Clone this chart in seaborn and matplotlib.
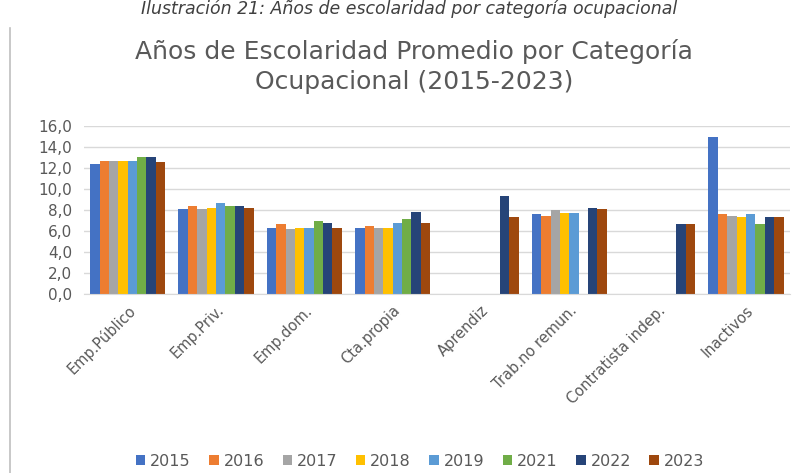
import pandas as pd
import numpy as np
import matplotlib.pyplot as plt
import seaborn as sns
from matplotlib.lines import Line2D
from matplotlib.ticker import FuncFormatter

# Datos
categorias = ['Emp.Público', 'Emp.Priv.', 'Emp.dom.', 'Cta.propia', 'Aprendiz',
              'Trab.no remun.', 'Contratista indep.', 'Inactivos']
anios = ['2015', '2016', '2017', '2018', '2019', '2021', '2022', '2023']
nan = np.nan
v2015 = [12.4, 8.1, 6.3, 6.3, nan, 7.6, nan, 14.9]
v2016 = [12.7, 8.4, 6.7, 6.5, nan, 7.4, nan, 7.6]
v2017 = [12.7, 8.1, 6.2, 6.3, nan, 8.0, nan, 7.4]
v2018 = [12.7, 8.2, 6.3, 6.3, nan, 7.7, nan, 7.3]
v2019 = [12.7, 8.7, 6.3, 6.8, nan, 7.7, nan, 7.6]
v2021 = [13.0, 8.4, 7.0, 7.1, nan, nan, nan, 6.7]
v2022 = [13.0, 8.4, 6.8, 7.8, 9.3, 8.2, 6.7, 7.3]
v2023 = [12.6, 8.2, 6.3, 6.8, 7.3, 8.1, 6.7, 7.3]
colores = ['#4472C4', '#ED7D31', '#A5A5A5', '#FFC000', '#5B9BD5', '#70AD47', '#264478', '#9E480E']

series = [v2015, v2016, v2017, v2018, v2019, v2021, v2022, v2023]
filas = []
for anio, vals in zip(anios, series):
    for cat, v in zip(categorias, vals):
        filas.append({'Categoria': cat, 'Anio': anio, 'Valor': v})
df = pd.DataFrame(filas)

fig = plt.figure(figsize=(8.03, 4.73), dpi=100)
ax = fig.add_axes([0.104, 0.378, 0.88, 0.356])

sns.barplot(data=df, x='Categoria', y='Valor', hue='Anio', order=categorias,
            hue_order=anios, palette=colores, width=0.85, gap=0, ax=ax,
            saturation=1, errorbar=None)

ax.set_ylim(0, 16)
ax.set_yticks(np.arange(0, 17, 2))
ax.yaxis.set_major_formatter(FuncFormatter(lambda v, p: f'{v:.1f}'.replace('.', ',')))
ax.grid(axis='y', color='#D9D9D9', linewidth=1)
ax.set_axisbelow(True)
for s in ['top', 'right', 'left']:
    ax.spines[s].set_visible(False)
ax.spines['bottom'].set_color('#D9D9D9')
ax.tick_params(axis='both', length=0, colors='#595959')
ax.tick_params(axis='y', labelsize=11, pad=8)
ax.tick_params(axis='x', labelsize=10.5, pad=6)
ax.set_xlabel('')
ax.set_ylabel('')
plt.setp(ax.get_xticklabels(), rotation=45, ha='right', rotation_mode='anchor')

handles, labels = ax.get_legend_handles_labels()
ax.legend_.remove()
fig.legend(handles, labels, loc='center', bbox_to_anchor=(0.523, 0.025), ncol=8,
           frameon=False, fontsize=11.5, handlelength=0.6, handleheight=0.6,
           handletextpad=0.3, columnspacing=1.15, labelcolor='#595959')

fig.text(0.516, 0.86, 'Años de Escolaridad Promedio por Categoría\nOcupacional (2015-2023)',
         ha='center', va='center', fontsize=18, color='#595959', linespacing=1.3)
fig.text(0.51, 1.0, 'Ilustración 21: Años de escolaridad por categoría ocupacional',
         ha='center', va='top', fontsize=12.5, style='italic', color='#404040')
fig.add_artist(Line2D([0.013, 0.013], [0, 0.94], color='#BFBFBF', linewidth=1.2))

plt.savefig('out.png', dpi=100)
